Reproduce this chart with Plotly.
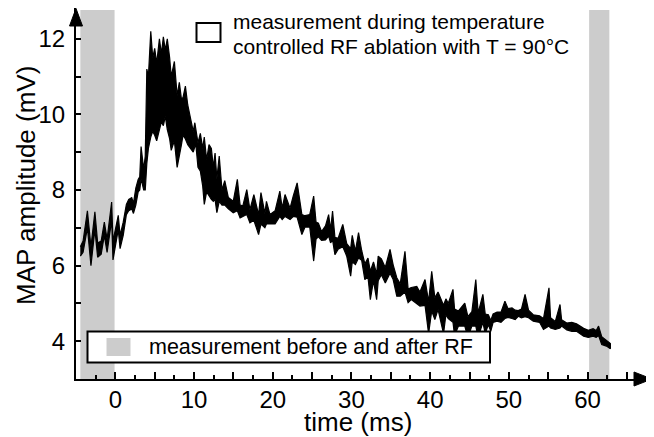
import plotly.graph_objects as go

# ---------------- data ----------------
time_ms = [-4.45, -4.1, -3.55, -3.1, -2.6, -2.25, -1.8, -1.4, -1.05, -0.47, -0.3, 0.37, 0.6, 1.0, 1.4, 1.7,
           2.08, 2.3, 2.6, 2.9, 3.1, 3.27, 3.6, 3.8, 4.0, 4.2, 4.5, 4.75, 5.0, 5.25, 5.6, 5.85, 6.1, 6.35,
           6.6, 6.9, 7.1, 7.5, 7.85, 8.13, 8.4, 8.6, 8.9, 9.2, 9.6, 9.9, 10.1, 10.25, 10.5, 10.8, 11.1, 11.3,
           11.6, 11.9, 12.2, 12.45, 12.67, 12.9, 13.2, 13.55, 13.9, 14.36, 14.98, 15.5, 15.85, 16.2, 16.7,
           17.1, 17.6, 18.2, 18.5, 19.0, 19.2, 19.65, 20.3, 20.9, 21.2, 21.56, 22.2, 22.6, 23.1, 23.7, 24.1,
           24.7, 25.2, 25.5, 25.8, 26.2, 26.7, 27.1, 27.35, 27.6, 27.9, 28.3, 28.9, 29.4, 29.9, 30.1, 30.5,
           30.9, 31.3, 31.7, 32.1, 32.4, 32.8, 33.2, 33.4, 33.8, 34.3, 34.9, 35.3, 35.76, 36.2, 36.8, 37.2,
           37.6, 38.3, 38.7, 39.35, 39.8, 40.2, 40.6, 41.0, 41.7, 42.0, 42.3, 42.9, 43.1, 43.6, 44.4, 44.8,
           45.3, 45.8, 46.1, 46.7, 47.0, 47.4, 47.7, 48.0, 48.5, 49.0, 49.5, 49.9, 50.4, 50.8, 51.2, 51.6,
           52.06, 52.5, 53.1, 53.9, 54.4, 55.1, 55.3, 55.9, 56.5, 56.7, 57.36, 58.0, 58.6, 59.5, 60.1, 60.7,
           61.1, 61.4, 61.8, 62.4, 62.9]

map_upper = [6.5, 6.65, 7.45, 6.5, 7.42, 6.6, 6.65, 7.15, 6.7, 7.68, 6.65, 7.33, 6.8, 7.15, 7.62, 7.75,
             7.8, 7.65, 8.05, 8.28, 8.35, 9.15, 8.55, 8.9, 11.2, 11.0, 12.2, 11.5, 11.75, 11.35, 12.0, 11.6, 12.05, 11.7,
             12.0, 11.5, 11.0, 11.4, 10.5, 10.85, 10.4, 10.45, 10.75, 10.25, 9.85, 9.55, 9.78, 9.6, 9.25, 9.5, 9.1, 9.4,
             8.8, 9.2, 9.1, 8.6, 8.98, 8.3, 8.9, 8.0, 8.25, 7.8, 7.7, 8.28, 7.6, 7.58, 8.01,
             7.48, 7.88, 7.35, 7.93, 7.38, 7.7, 7.35, 7.45, 7.97, 7.52, 7.88, 7.52, 7.84, 8.19, 7.35, 7.32,
             7.35, 7.84, 7.15, 7.12, 6.9, 7.05, 7.35, 6.95, 7.44, 6.75, 6.72, 7.09, 6.58, 6.45, 6.8, 6.38,
             6.87, 6.4, 6.05, 6.2, 5.85, 6.1, 5.78, 6.25, 6.18, 5.95, 6.43, 6.02, 5.68, 5.52, 6.38, 5.38,
             5.42, 5.45, 5.3, 5.63, 5.05, 5.85, 5.15, 5.3, 4.95, 5.12, 5.0, 5.37, 4.85, 4.8, 5.01, 4.65,
             4.78, 5.63, 4.75, 5.24, 4.72, 4.7, 4.55, 4.72, 4.77, 4.77, 5.06, 4.86, 4.88, 4.82, 4.81, 4.85,
             5.24, 4.82, 4.7, 4.67, 4.6, 5.41, 4.62, 4.52, 4.97, 4.57, 4.48, 4.5, 4.46, 4.34, 4.29, 4.33,
             4.28, 4.4, 4.12, 4.03, 3.94]

map_lower = [6.25, 6.35, 7.0, 6.0, 6.95, 6.22, 6.3, 6.8, 6.35, 7.2, 6.15, 6.95, 6.45, 6.8, 7.35, 7.45,
             7.5, 7.38, 7.6, 7.95, 8.0, 8.3, 8.0, 8.0, 8.7, 9.1, 9.4, 9.55, 9.45, 9.3, 9.6, 9.8, 9.7, 9.95,
             9.6, 9.35, 9.05, 9.3, 8.6, 8.9, 9.2, 9.45, 9.35, 9.2, 9.1, 9.0, 9.15, 9.15, 8.6, 8.5, 8.1, 7.62,
             7.95, 7.85, 7.75, 7.7, 7.75, 7.4, 7.7, 7.6, 7.6, 7.5, 7.4, 7.45, 7.26, 7.3, 7.35,
             7.13, 7.2, 6.82, 7.1, 7.0, 7.1, 7.09, 7.1, 7.3, 7.22, 7.3, 7.22, 7.3, 7.28, 6.82, 7.02,
             7.02, 6.12, 6.7, 6.76, 6.67, 6.68, 6.78, 6.6, 6.68, 6.29, 6.43, 6.5, 6.25, 5.72, 6.1, 6.03,
             6.2, 6.14, 5.63, 5.7, 5.1, 5.6, 5.1, 5.6, 5.76, 5.54, 5.8, 5.63, 5.19, 5.19, 5.3, 5.02,
             5.1, 5.0, 4.93, 4.95, 4.2, 4.8, 4.57, 4.84, 4.2, 4.7, 4.6, 4.5, 4.15, 4.4, 4.4, 4.1,
             4.4, 4.4, 4.1, 4.5, 4.2, 4.44, 4.26, 4.5, 4.53, 4.5, 4.6, 4.63, 4.6, 4.57, 4.66, 4.62,
             4.65, 4.62, 4.53, 4.5, 4.31, 4.4, 4.35, 4.31, 4.35, 4.4, 4.3, 4.26, 4.26, 4.13, 4.1, 4.13,
             4.1, 4.15, 3.91, 3.87, 3.8]

rf_off_windows = [(-4.45, -0.1), (60.2, 62.77)]   # measurement before and after RF (ms)
gray_top = 12.76

x_tick_vals = [-5, 0, 5, 10, 15, 20, 25, 30, 35, 40, 45, 50, 55, 60, 65]
x_tick_text = ["", "0", "", "10", "", "20", "", "30", "", "40", "", "50", "", "60", ""]
y_tick_vals = [4, 6, 8, 10, 12]
y_tick_text = ["4", "6", "8", "10", "12"]

legend_during = ["measurement during temperature", "controlled RF ablation with T = 90°C"]
legend_before_after = "measurement before and after RF"

# ---------------- layout geometry ----------------
# the page body adds an 8 px offset, so the figure is 8 px smaller and everything is placed 8 px up/left
OFF = 8
W, H = 654 - OFF, 437 - OFF
PW, PH = 576, 371
L, T = 76 - OFF, 8 - OFF
R, B = W - L - PW, H - T - PH
X_RANGE = [-5, -5 + PW / 7.87]
Y_RANGE = [3.0, 3.0 + PH / 37.8]
FONT = "Liberation Sans, Arial, sans-serif"
GRAY = "#cccccc"


def px(xp):
    """page x pixel of the reference -> paper fraction"""
    return (xp - OFF - L) / PW


def py(yp):
    """page y pixel of the reference -> paper fraction"""
    return (T + PH - (yp - OFF)) / PH


fig = go.Figure()
fig.add_trace(go.Scatter(
    x=time_ms + time_ms[::-1],
    y=map_upper + map_lower[::-1],
    mode="lines", fill="toself", fillcolor="black",
    line=dict(color="black", width=1.2),
    hoverinfo="skip", showlegend=False,
))

shapes = []
for x0, x1 in rf_off_windows:
    shapes.append(dict(type="rect", xref="x", yref="y", x0=x0, x1=x1, y0=Y_RANGE[0], y1=gray_top,
                       fillcolor=GRAY, line=dict(width=0), layer="below"))

# axis arrowheads
shapes.append(dict(type="path", xref="paper", yref="paper",
                   path=f"M {px(76)} {py(8.5)} L {px(69.5)} {py(26)} L {px(82.5)} {py(26)} Z",
                   fillcolor="black", line=dict(color="black", width=1), layer="above"))
shapes.append(dict(type="path", xref="paper", yref="paper",
                   path=f"M {px(652)} {py(379)} L {px(634)} {py(372)} L {px(634)} {py(386)} Z",
                   fillcolor="black", line=dict(color="black", width=1), layer="above"))

# legend: during RF (white box)
shapes.append(dict(type="rect", xref="paper", yref="paper", x0=px(196.5), x1=px(220.5), y0=py(42), y1=py(23),
                   fillcolor="white", line=dict(color="black", width=2), layer="above"))
# legend: before/after RF
shapes.append(dict(type="rect", xref="paper", yref="paper", x0=px(87.5), x1=px(490), y0=py(362.5), y1=py(331.5),
                   fillcolor="white", line=dict(color="black", width=2), layer="above"))
shapes.append(dict(type="rect", xref="paper", yref="paper", x0=px(106.5), x1=px(130.5), y0=py(356), y1=py(338),
                   fillcolor=GRAY, line=dict(width=0), layer="above"))

annotations = [
    dict(text=legend_during[0], x=px(231), y=py(22), xref="paper", yref="paper", xanchor="left", yanchor="middle",
         showarrow=False, font=dict(family=FONT, size=21, color="black")),
    dict(text=legend_during[1], x=px(231), y=py(47), xref="paper", yref="paper", xanchor="left", yanchor="middle",
         showarrow=False, font=dict(family=FONT, size=21, color="black")),
    dict(text=legend_before_after, x=px(147), y=py(347), xref="paper", yref="paper", xanchor="left", yanchor="middle",
         showarrow=False, font=dict(family=FONT, size=21.5, color="black")),
    dict(text="time (ms)", x=px(358), y=py(422), xref="paper", yref="paper", xanchor="center", yanchor="middle",
         showarrow=False, font=dict(family=FONT, size=26, color="black")),
    dict(text="MAP amplitude (mV)", x=px(26), y=py(186), xref="paper", yref="paper", xanchor="center", yanchor="middle",
         textangle=-90, showarrow=False, font=dict(family=FONT, size=26, color="black")),
]

fig.update_layout(
    width=W, height=H, margin=dict(l=L, r=R, t=T, b=B, autoexpand=False),
    paper_bgcolor="white", plot_bgcolor="white",
    shapes=shapes, annotations=annotations, showlegend=False,
    font=dict(family=FONT, color="black"),
)
fig.update_xaxes(
    range=X_RANGE, showgrid=False, zeroline=False, showline=True, linecolor="black", linewidth=2,
    tickmode="array", tickvals=x_tick_vals, ticktext=x_tick_text,
    ticks="inside", ticklen=7, tickwidth=1.5, tickcolor="black", ticklabelstandoff=-2,
    tickfont=dict(family=FONT, size=24, color="black"), automargin=False,
    minor=dict(tickmode="linear", tick0=-5, dtick=2.5, ticks="inside", ticklen=4, tickwidth=1.5, tickcolor="black"),
)
fig.update_yaxes(
    range=Y_RANGE, showgrid=False, zeroline=False, showline=True, linecolor="black", linewidth=2,
    tickmode="array", tickvals=y_tick_vals, ticktext=y_tick_text,
    ticks="inside", ticklen=5, tickwidth=1.5, tickcolor="black", ticklabelstandoff=4,
    tickfont=dict(family=FONT, size=24, color="black"), automargin=False,
    minor=dict(tickmode="linear", tick0=3, dtick=1, ticks="inside", ticklen=5, tickwidth=1.5, tickcolor="black"),
)

fig.write_html("out.html")
